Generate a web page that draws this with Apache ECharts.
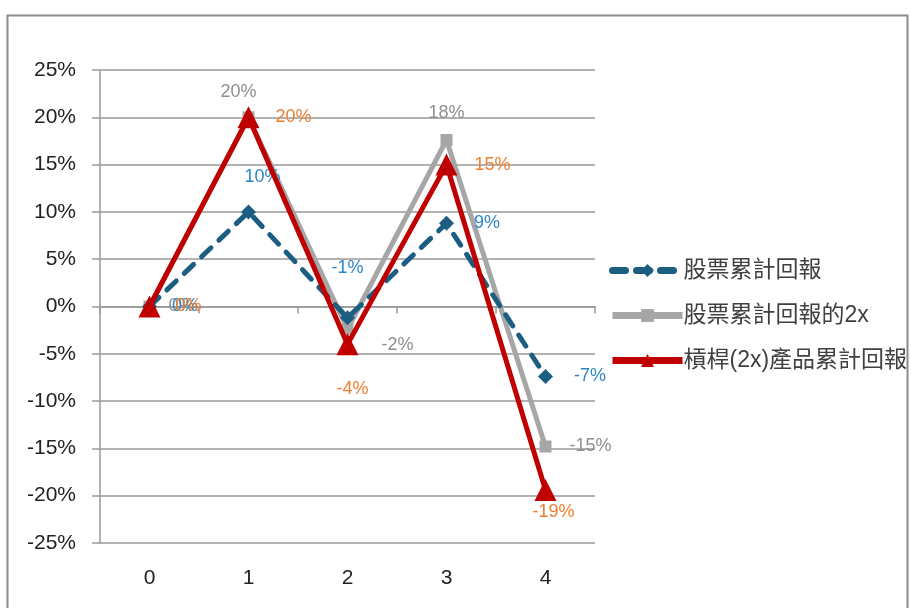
<!DOCTYPE html>
<html><head><meta charset="utf-8">
<script src="https://cdn.jsdelivr.net/npm/echarts@6/dist/echarts.min.js"></script>
<style>html,body{margin:0;padding:0;background:#fff}#c{width:911px;height:608px}</style>
</head><body><div id="c"></div>
<script>
var categories = ['0', '1', '2', '3', '4'];
var stockReturn = [0, 10, -1.2, 8.8, -7.4];
var stockReturn2x = [0, 20, -2.4, 17.6, -14.8];
var leveragedReturn = [0, 20, -4, 15, -19.4];
var seriesNames = ['股票累計回報', '股票累計回報的2x', '槓桿(2x)產品累計回報'];
var yTicks = { min: -25, max: 25, step: 5 };

var FONT = '"Liberation Sans", "Noto Sans CJK TC", sans-serif';

// label placement styles per point
var stockLbl = [
  {position: 'right', distance: 15},
  {position: 'top', distance: 18, offset: [14, 0]},
  {position: 'top', distance: 33},
  {position: 'right', distance: 20},
  {position: 'right', distance: 21}
];
var grayLbl = [
  {position: 'right', distance: 13},
  {position: 'top', distance: 10, offset: [-10, 0]},
  {position: 'right', distance: 28, offset: [0, 16]},
  {position: 'top', distance: 12},
  {position: 'right', distance: 18}
];
var redLbl = [
  {position: 'right', distance: 15},
  {position: 'right', distance: 16},
  {position: 'bottom', distance: 25, offset: [5, 0]},
  {position: 'right', distance: 17},
  {position: 'bottom', distance: 2, offset: [8, 0]}
];

function build(vals, lbls, color) {
  return vals.map(function (v, i) {
    var l = lbls[i];
    return {
      value: v,
      label: {
        show: true, position: l.position, distance: l.distance, offset: l.offset || [0, 0],
        color: color, fontSize: 18, fontFamily: FONT,
        formatter: function (p) { return Math.round(p.value) + '%'; }
      }
    };
  });
}

var chart = echarts.init(document.getElementById('c'), null, {renderer: 'canvas'});
chart.setOption({
  animation: false,
  backgroundColor: '#fff',
  graphic: [{
    type: 'rect', left: 5, top: 13, z: -10,
    shape: {width: 900, height: 620},
    style: {fill: 'none', stroke: '#8c8c8c', lineWidth: 2}
  }],
  grid: {left: 100, right: 316, top: 70, bottom: 65},
  legend: {
    orient: 'vertical', left: 604, top: 254, itemGap: 22,
    itemWidth: 70, itemHeight: 16,
    lineStyle: {width: 7},
    textStyle: {fontSize: 23, color: '#404040', fontFamily: FONT, padding: [0, 0, 0, -4]},
    data: seriesNames
  },
  xAxis: [{
    type: 'category', data: categories, boundaryGap: true,
    axisLine: {onZero: true, lineStyle: {color: '#999', width: 1.5}},
    axisTick: {show: true, length: 7, inside: false, alignWithLabel: false, lineStyle: {color: '#999', width: 1.5}},
    axisLabel: {show: false}
  }, {
    type: 'category', data: categories, boundaryGap: true, position: 'bottom',
    axisLine: {show: false}, axisTick: {show: false},
    axisLabel: {show: true, fontSize: 21, color: '#222', fontFamily: FONT, margin: 25}
  }],
  yAxis: {
    type: 'value', min: yTicks.min, max: yTicks.max, interval: yTicks.step,
    axisLine: {show: true, lineStyle: {color: '#999', width: 1.5}},
    axisTick: {show: true, length: 8, lineStyle: {color: '#999', width: 1.5}},
    axisLabel: {fontSize: 21, color: '#222', fontFamily: FONT, margin: 24,
      formatter: function (v) { return v + '%'; }},
    splitLine: {show: true, lineStyle: {color: '#999', width: 1.5}}
  },
  series: [{
    name: seriesNames[0], type: 'line', xAxisIndex: 0,
    data: build(stockReturn, stockLbl, '#2e86c8'),
    symbol: 'diamond', symbolSize: 15,
    itemStyle: {color: '#1c5d82'},
    lineStyle: {color: '#1c5d82', width: 5, type: [13, 11], cap: 'round'},
    z: 4
  }, {
    name: seriesNames[1], type: 'line', xAxisIndex: 0,
    data: build(stockReturn2x, grayLbl, '#8f8f8f'),
    symbol: 'rect', symbolSize: 12,
    itemStyle: {color: '#a6a6a6'},
    lineStyle: {color: '#a6a6a6', width: 5},
    z: 3
  }, {
    name: seriesNames[2], type: 'line', xAxisIndex: 0,
    data: build(leveragedReturn, redLbl, '#ed7d31'),
    symbol: 'triangle', symbolSize: 22,
    itemStyle: {color: '#c00000'},
    lineStyle: {color: '#c00000', width: 5},
    z: 5
  }]
});
</script>
</body></html>
